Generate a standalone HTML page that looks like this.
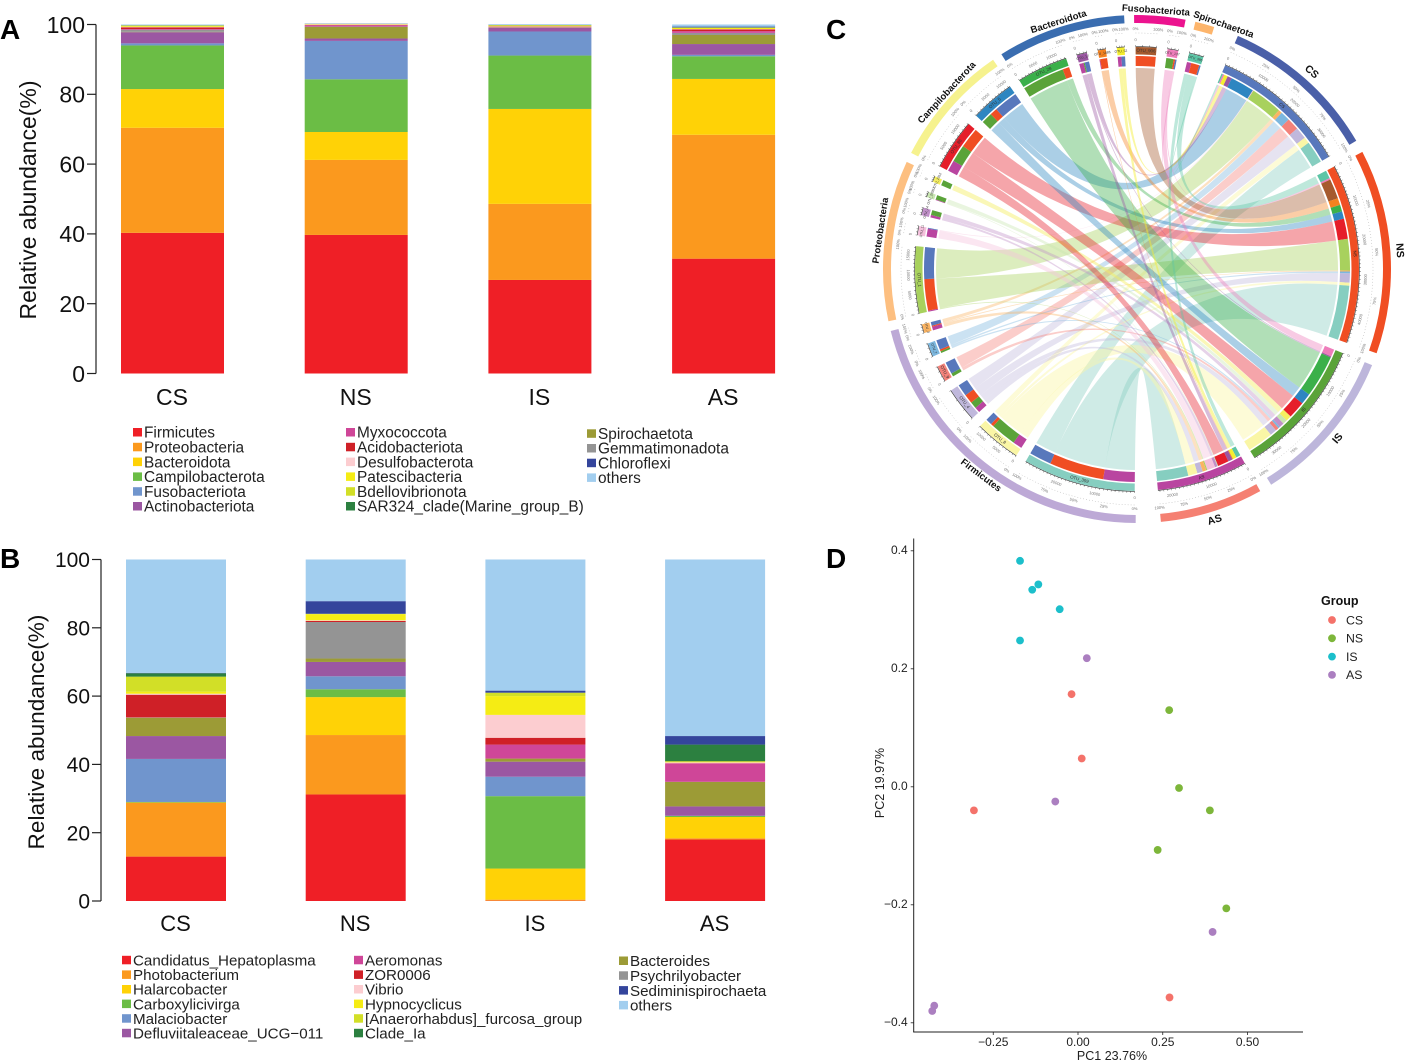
<!DOCTYPE html>
<html lang="en">
<head>
<meta charset="utf-8">
<title>Microbiome composition figure</title>
<style>
html,body{margin:0;padding:0;background:#fff;}
#figure{display:block;width:1414px;height:1062px;font-family:"Liberation Sans",sans-serif;}
text{font-family:"Liberation Sans",sans-serif;}
</style>
</head>
<body>
<svg id="figure" xmlns="http://www.w3.org/2000/svg" width="1414" height="1062" viewBox="0 0 1414 1062">
<rect x="0" y="0" width="1414" height="1062" fill="#fff"/>
<text x="0" y="39" font-size="28" font-weight="bold">A</text>
<text x="0" y="568" font-size="28" font-weight="bold">B</text>
<text x="826" y="39" font-size="28" font-weight="bold">C</text>
<text x="826" y="568" font-size="28" font-weight="bold">D</text>
<g id="panelA"></g>
<g id="panelB"></g>
<g id="panelC"></g>
<g id="panelD"></g>
</svg>
<script>
/* ---------- shared data ---------- */
const groupNames = ["CS", "NS", "IS", "AS"];
const percentTicks = [0, 20, 40, 60, 80, 100];

/* ---------- panel A data ---------- */
const phylumStackOrder = ["Firmicutes","Proteobacteria","Bacteroidota","Campilobacterota","Fusobacteriota","Actinobacteriota","Spirochaetota","Gemmatimonadota","Myxococcota","Acidobacteriota","Desulfobacterota","Patescibacteria","Bdellovibrionota","SAR324_clade(Marine_group_B)","Chloroflexi","others"];
const phylumColors = ["#EF1F26","#FB991E","#FFD206","#6BBD45","#7095CD","#9B57A2","#9C9B36","#949494","#CF4698","#CF2027","#FCCDD0","#F5EC14","#D2DF27","#2C8040","#34459C","#A2CEEF"];
const phylumCS = [40.3,30.1,11.1,12.5,0.6,3.2,0.1,0.6,0.2,0.5,0.1,0.2,0.2,0.05,0.05,0.2];
const phylumNS = [39.7,21.5,8.0,15.1,11.0,0.7,3.3,0.1,0.4,0.1,0.1,0.1,0.05,0.05,0.05,0.05];
const phylumIS = [26.8,21.8,27.2,15.3,6.9,1.0,0.1,0.1,0.1,0.1,0.1,0.2,0.1,0.05,0.05,0.2];
const phylumAS = [32.9,35.5,16.0,6.5,0.4,3.1,2.6,0.6,0.5,0.5,0.1,0.3,0.1,0.1,0.2,0.6];
const phylumLegendCol1 = ["Firmicutes","Proteobacteria","Bacteroidota","Campilobacterota","Fusobacteriota","Actinobacteriota"];
const phylumLegendCol2 = ["Myxococcota","Acidobacteriota","Desulfobacterota","Patescibacteria","Bdellovibrionota","SAR324_clade(Marine_group_B)"];
const phylumLegendCol3 = ["Spirochaetota","Gemmatimonadota","Chloroflexi","others"];

/* ---------- panel B data ---------- */
const genusStackOrder = ["Candidatus_Hepatoplasma","Photobacterium","Halarcobacter","Carboxylicivirga","Malaciobacter","Defluviitaleaceae_UCG\u2212011","Bacteroides","Psychrilyobacter","Aeromonas","ZOR0006","Vibrio","Hypnocyclicus","[Anaerorhabdus]_furcosa_group","Clade_Ia","Sediminispirochaeta","others"];
const genusColors = ["#EF1F26","#FB991E","#FFD206","#6BBD45","#7095CD","#9B57A2","#9C9B36","#949494","#CF4698","#CF2027","#FCCDD0","#F5EC14","#D2DF27","#2C8040","#34459C","#A2CEEF"];
const genusCS = [13.0,15.8,0.05,0.15,12.6,6.7,5.4,0,0.1,6.6,0.3,0.6,4.4,1.0,0.1,33.2];
const genusNS = [31.2,17.4,11.1,2.3,3.8,4.2,1.0,10.7,0,0.3,0.2,1.8,0.1,0,3.7,12.2];
const genusIS = [0.1,0.3,9.1,21.2,5.7,4.4,0.9,0,4.1,2.0,6.7,5.5,1.0,0,0.6,38.4];
const genusAS = [18.0,0.4,6.2,0.3,0.05,2.75,7.2,0,5.4,0.05,0.25,0.3,0,4.9,2.5,51.7];
const genusLegendCol1 = ["Candidatus_Hepatoplasma","Photobacterium","Halarcobacter","Carboxylicivirga","Malaciobacter","Defluviitaleaceae_UCG\u2212011"];
const genusLegendCol2 = ["Aeromonas","ZOR0006","Vibrio","Hypnocyclicus","[Anaerorhabdus]_furcosa_group","Clade_Ia"];
const genusLegendCol3 = ["Bacteroides","Psychrilyobacter","Sediminispirochaeta","others"];

/* ---------- panel C data ---------- */
const otuNames = ["OTU_359","OTU_8","OTU_4","OTU_9","OTU_7","OTU_3","OTU_1","OTU_11","OTU_14","OTU_20351","OTU_2012","OTU_86","OTU_5","OTU_28","OTU_17","OTU_1886","OTU_52","OTU_906","OTU_137","OTU_396"];
const otuPhylum = ["Firmicutes","Firmicutes","Firmicutes","Firmicutes","Firmicutes","Firmicutes","Proteobacteria","Proteobacteria","Proteobacteria","Proteobacteria","Proteobacteria","Campilobacterota","Campilobacterota","Bacteroidota","Bacteroidota","Bacteroidota","Bacteroidota","Fusobacteriota","Fusobacteriota","Spirochaetota"];
const otuColors = ["#86CEC0","#FAF6A6","#C0B8DC","#F4827A","#7CB7DE","#FAB463","#A8D15D","#F4C0DC","#C090C8","#C8E6B0","#F5EE60","#E61E2A","#2E86C1","#3BB04A","#9B57A2","#F58220","#F5EE30","#A65A2E","#EE7DBB","#5DC5A6"];
/* reads (thousands) per OTU, columns = CS, NS, IS, AS */
const flowCS = [6.0,1.7,3.2,3.3,2.6,1.0,8.6,0.2,0,0,0,0,6.5,0,1.2,0,1.0,0,0.4,0.4];
const flowNS = [14.8,0.8,2.5,0,0.5,0.3,8.5,0,0,0,0,5.5,2.0,1.8,0,1.9,0,5.4,0.4,2.2];
const flowIS = [0,7.0,1.8,0.9,0.5,0,0,0,1.3,1.2,1.5,4.7,3.0,11.5,0.3,0,0,0,2.0,0];
const flowAS = [8.5,2.5,1.5,0,0,1.0,0.3,2.2,0.7,0.2,0,3.0,0,0,1.2,0.2,1.0,0,0,1.2];
const phylumArcColors = {"Firmicutes":"#BDA9D6","Proteobacteria":"#FDBF80","Campilobacterota":"#F6F28E","Bacteroidota":"#3A6DB0","Fusobacteriota":"#EC138F","Spirochaetota":"#FDB56C"};
const groupArcColors = ["#4A5FA8","#F04E23","#BDB6DB","#F58072"];
const groupBarColors = ["#5878BC","#F04E23","#5AA339","#B945A0"];

/* ---------- panel D data ---------- */
const pcaGroupColors = ["#F4726A","#7DB63A","#1CBFCB","#AB7FC0"];
const pcaCSx = [-0.019,0.011,-0.307,0.270];
const pcaCSy = [0.157,0.048,-0.040,-0.357];
const pcaNSx = [0.269,0.298,0.389,0.235,0.4375];
const pcaNSy = [0.130,-0.002,-0.040,-0.107,-0.206];
const pcaISx = [-0.171,-0.117,-0.135,-0.054,-0.171];
const pcaISy = [0.383,0.343,0.334,0.301,0.248];
const pcaASx = [0.026,-0.067,0.397,-0.424,-0.430];
const pcaASy = [0.218,-0.025,-0.246,-0.371,-0.380];
const pcaXTicks = [-0.25,0,0.25,0.5];
const pcaXTickLabels = ["\u22120.25","0.00","0.25","0.50"];
const pcaYTicks = [0.4,0.2,0,-0.2,-0.4];
const pcaYTickLabels = ["0.4","0.2","0.0","\u22120.2","\u22120.4"];

/* ---------- helpers ---------- */
const NS_URI = "http://www.w3.org/2000/svg";
function make(parent, tag, attrs, txt){
  const el = document.createElementNS(NS_URI, tag);
  for (const k in attrs) el.setAttribute(k, attrs[k]);
  if (txt !== undefined) el.textContent = txt;
  parent.appendChild(el);
  return el;
}
function slug(s){ return String(s).toLowerCase().replace(/[^a-z0-9]+/g,'-').replace(/^-|-$/g,''); }

/* ---------- stacked bar panels ---------- */
function drawStacked(root, cfg){
  const yScale = v => cfg.y0 + (cfg.y100 - cfg.y0) * v / 100;
  const axis = make(root, "line", {x1:cfg.axisX, x2:cfg.axisX, y1:yScale(100), y2:yScale(0), stroke:"#222", "stroke-width":1.2});
  
  
  percentTicks.forEach(t => {
    const tick = make(root, "line", {x1:cfg.axisX-9, x2:cfg.axisX, y1:yScale(t), y2:yScale(t), stroke:"#222", "stroke-width":1.2});
    
    
    const lab = make(root, "text", {x:cfg.axisX-11, y:yScale(t)+cfg.tickSize*0.36, "text-anchor":"end", "font-size":cfg.tickSize, fill:"#111"}, String(t));
    
    
  });
  const title = make(root, "text", {transform:"translate("+cfg.titleX+","+cfg.titleY+") rotate(-90)", "text-anchor":"middle", "font-size":cfg.titleSize, fill:"#111"}, "Relative abundance(%)");
  
  
  cfg.series.forEach((vals, gi) => {
    const g = make(root, "g", {});
    
    
    let acc = 0;
    const x = cfg.barX0 + gi * cfg.barStep;
    vals.forEach((v, si) => {
      if (v <= 0) return;
      const yTop = yScale(acc + v), yBot = yScale(acc);
      const r = make(g, "rect", {x:x, y:yTop, width:cfg.barW, height:Math.max(yBot-yTop,0.1), fill:cfg.colors[si]});
      
      
      acc += v;
    });
    const cat = make(root, "text", {x:x+cfg.barW/2+cfg.catShift, y:cfg.catY, "text-anchor":"middle", "font-size":cfg.catSize, fill:"#111"}, groupNames[gi]);
    
    
  });
  cfg.legend.forEach(col => {
    col.items.forEach((name, i) => {
      const cy = col.y0 + i * col.dy;
      const sw = make(root, "rect", {x:col.x, y:cy-4.5, width:9, height:8.5, fill:cfg.colors[cfg.names.indexOf(name)]});
      
      
      const tx = make(root, "text", {x:col.x+11, y:cy+5.2, "font-size":cfg.legendSize, fill:"#222"}, name);
      
      
    });
  });
}
drawStacked(document.getElementById('panelA'), {
  id:'phylum', y0:373.5, y100:24.5, axisX:96, tickSize:23, titleX:36, titleY:200, titleSize:23,
  barX0:121, barStep:183.7, barW:103, catY:405, catSize:23, catShift:-0.5,
  colors:phylumColors, names:phylumStackOrder, series:[phylumCS,phylumNS,phylumIS,phylumAS], legendSize:15.4,
  legend:[{x:133,y0:432.5,dy:14.8,items:phylumLegendCol1},{x:346,y0:432.5,dy:14.8,items:phylumLegendCol2},{x:587,y0:433.8,dy:14.7,items:phylumLegendCol3}]
});
drawStacked(document.getElementById('panelB'), {
  id:'genus', y0:901, y100:559.5, axisX:101, tickSize:21, titleX:44, titleY:732, titleSize:22.6,
  barX0:126, barStep:179.7, barW:100, catY:931, catSize:22, catShift:-0.5,
  colors:genusColors, names:genusStackOrder, series:[genusCS,genusNS,genusIS,genusAS], legendSize:15.15,
  legend:[{x:122,y0:960.3,dy:14.6,items:genusLegendCol1},{x:354,y0:960.3,dy:14.6,items:genusLegendCol2},{x:619,y0:961,dy:14.8,items:genusLegendCol3}]
});

/* ---------- chord diagram ---------- */
(function(){
  const root = document.getElementById('panelC');
  const cx = 1137, cy = 269;
  const R = {ribbon:201, stackIn:203, stackOut:213, barIn:214.5, barOut:222, tickOut:225, tickLab:229, dotted:236, pctLab:240, arcIn:246, arcOut:254, label:259};
  const pt = (r, a) => { const t = a*Math.PI/180; return [cx + r*Math.sin(t), cy - r*Math.cos(t)]; };
  const fmt = p => p[0].toFixed(2) + ' ' + p[1].toFixed(2);
  function band(r0, r1, a0, a1){
    const large = (a1-a0) > 180 ? 1 : 0;
    return 'M' + fmt(pt(r1,a0)) + 'A' + r1 + ' ' + r1 + ' 0 ' + large + ' 1 ' + fmt(pt(r1,a1)) +
           'L' + fmt(pt(r0,a1)) + 'A' + r0 + ' ' + r0 + ' 0 ' + large + ' 0 ' + fmt(pt(r0,a0)) + 'Z';
  }
  const flows = [flowCS, flowNS, flowIS, flowAS];
  const otuTotals = otuNames.map((_, i) => flows.reduce((s,f)=>s+f[i],0));
  const groupTotals = flows.map(f => f.reduce((s,v)=>s+v,0));
  const sum = otuTotals.reduce((s,v)=>s+v,0) + groupTotals.reduce((s,v)=>s+v,0);
  const gapSmall = 2.85, gapBig = 6;
  const scale = (360 - 22*gapSmall - 2*gapBig) / sum;
  let angle = 180.6;
  const otuSectors = [], groupSectors = [];
  otuNames.forEach((n, i) => {
    const s = {start:angle, end:angle + otuTotals[i]*scale};
    otuSectors.push(s);
    angle = s.end + (i === otuNames.length-1 ? gapBig : gapSmall);
  });
  groupNames.forEach((n, i) => {
    const s = {start:angle, end:angle + groupTotals[i]*scale};
    groupSectors.push(s);
    angle = s.end + (i === groupNames.length-1 ? gapBig : gapSmall);
  });
  const otuSeg = [], groupSeg = groupNames.map(()=>({}));
  otuNames.forEach((n, i) => {
    let a = otuSectors[i].start;
    otuSeg[i] = {};
    for (let g = 3; g >= 0; g--) {
      const w = flows[g][i]*scale;
      otuSeg[i][g] = [a, a+w];
      a += w;
    }
  });
  groupNames.forEach((n, g) => {
    let a = groupSectors[g].start;
    for (let i = otuNames.length-1; i >= 0; i--) {
      const w = flows[g][i]*scale;
      groupSeg[g][i] = [a, a+w];
      a += w;
    }
  });
  /* ribbons */
  const ribbons = make(root, "g", {});
  
  
  otuNames.forEach((n, i) => {
    groupNames.forEach((gn, g) => {
      if (flows[g][i] <= 0) return;
      const a = otuSeg[i][g], b = groupSeg[g][i];
      const r = R.ribbon;
      const d = 'M' + fmt(pt(r,a[0])) + 'A' + r + ' ' + r + ' 0 0 1 ' + fmt(pt(r,a[1])) +
        'Q' + cx + ' ' + cy + ' ' + fmt(pt(r,b[0])) +
        'A' + r + ' ' + r + ' 0 0 1 ' + fmt(pt(r,b[1])) +
        'Q' + cx + ' ' + cy + ' ' + fmt(pt(r,a[0])) + 'Z';
      const p = make(ribbons, "path", {d:d, fill:otuColors[i], "fill-opacity":(i===1||i===16||i===10)?0.45:0.4});
      
      
    });
  });
  /* tracks */
  function trackLabel(text, r, a, size, fill, weight, name){
    const p = pt(r,a);
    const norm = ((a%360)+360)%360;
    const rot = (norm <= 90 || norm >= 270) ? norm : norm-180;
    const t = make(root, "text", {transform:"translate("+p[0].toFixed(2)+","+p[1].toFixed(2)+") rotate("+rot.toFixed(1)+")", "text-anchor":"middle", "dominant-baseline":"middle", "font-size":size, fill:fill, "font-weight":weight}, text);
    
    
  }
  function decorate(sec, total, barColor, label, id, textFill){
    const bar = make(root, "path", {d:band(R.barIn,R.barOut,sec.start,sec.end), fill:barColor});
    
    
    const axis = make(root, "path", {d:'M'+fmt(pt(R.barOut+0.4,sec.start))+'A'+(R.barOut+0.4)+' '+(R.barOut+0.4)+' 0 0 1 '+fmt(pt(R.barOut+0.4,sec.end)), fill:"none", stroke:"#333", "stroke-width":0.6});
    
    
    const width = sec.end - sec.start;
    const step = total >= 10 ? 1 : total / 3;
    for (let v = 0; v <= total + 1e-6; v += step) {
      const a = sec.start + v*scale;
      const p0 = pt(R.barOut+0.4,a), p1 = pt(R.barOut + 2,a);
      const tk = make(root, "line", {x1:p0[0],y1:p0[1],x2:p1[0],y2:p1[1],stroke:"#333","stroke-width":0.4});
      
      
    }
    const labStep = total >= 20 ? 10 : (total >= 10 ? 5 : 1000);
    for (let v = 0; v <= total + 1e-6; v += labStep) {
      const a = sec.start + v*scale;
      trackLabel(String(Math.round(v*1000)), R.tickLab, a, 4, "#777", "normal", id + '-tick-label');
    }
    const dot = make(root, "path", {d:'M'+fmt(pt(R.dotted,sec.start))+'A'+R.dotted+' '+R.dotted+' 0 0 1 '+fmt(pt(R.dotted,sec.end)), fill:"none", stroke:"#999", "stroke-width":0.5, "stroke-dasharray":"0.8 2.2"});
    
    
    const pcts = width > 20 ? [0,25,50,75,100] : [0,100];
    pcts.forEach(pc => {
      const a = sec.start + (sec.end-sec.start)*pc/100;
      trackLabel(pc + '%', R.pctLab, a, 4, "#777", "normal", id + '-percent-label');
    });
    if (width >= 1.4) trackLabel(label, (R.barIn+R.barOut)/2, (sec.start+sec.end)/2, width > 4 ? 4.4 : 3.4, textFill, "normal", id + '-track-label');
  }
  otuNames.forEach((n, i) => {
    const id = 'otu-' + slug(n);
    for (let g = 3; g >= 0; g--) {
      if (flows[g][i] <= 0) continue;
      const s = otuSeg[i][g];
      const p = make(root, "path", {d:band(R.stackIn,R.stackOut,s[0],s[1]), fill:groupBarColors[g]});
      
      
    }
    decorate(otuSectors[i], otuTotals[i], otuColors[i], n, id, "#333");
  });
  groupNames.forEach((n, g) => {
    const id = 'group-' + slug(n);
    for (let i = otuNames.length-1; i >= 0; i--) {
      if (flows[g][i] <= 0) continue;
      const s = groupSeg[g][i];
      const p = make(root, "path", {d:band(R.stackIn,R.stackOut,s[0],s[1]), fill:otuColors[i]});
      
      
    }
    decorate(groupSectors[g], groupTotals[g], groupBarColors[g], n, id, "#222");
    const arc = make(root, "path", {d:band(R.arcIn,R.arcOut,groupSectors[g].start,groupSectors[g].end), fill:groupArcColors[g]});
    
    
    trackLabel(n, R.label+4, (groupSectors[g].start+groupSectors[g].end)/2, 10.5, "#111", "bold", id + '-name-label');
  });
  Object.keys(phylumArcColors).forEach(ph => {
    const idx = otuPhylum.map((p,i)=>p===ph?i:-1).filter(i=>i>=0);
    const s = otuSectors[idx[0]].start - 0.3, e = otuSectors[idx[idx.length-1]].end + 0.3;
    const arc = make(root, "path", {d:band(R.arcIn,R.arcOut,s,e), fill:phylumArcColors[ph]});
    
    
    let shift = 0;
    if (ph === "Spirochaetota") shift = 4;
    if (ph === "Fusobacteriota") shift = -1;
    if (ph === "Proteobacteria") shift = 2;
    if (ph === "Campilobacterota") shift = 1.5;
    if (ph === "Firmicutes") shift = -1;
    trackLabel(ph, R.label, (s+e)/2 + shift, 9.5, "#111", "bold", 'phylum-name-label-' + slug(ph));
  });
})();

/* ---------- PCA scatter ---------- */
(function(){
  const root = document.getElementById('panelD');
  const xScale = v => 1078 + 339*v;
  const yScale = v => 786.8 - 590*v;
  const axisLeft = 913.7, axisBottom = 1032, axisTop = 538.5, axisRight = 1303;
  const ay = make(root, "line", {x1:axisLeft,x2:axisLeft,y1:axisTop,y2:axisBottom,stroke:"#222","stroke-width":1});
  
  
  const ax = make(root, "line", {x1:axisLeft-0.5,x2:axisRight,y1:axisBottom,y2:axisBottom,stroke:"#222","stroke-width":1});
  
  
  pcaXTicks.forEach((t,i) => {
    const x = xScale(t);
    const tk = make(root, "line", {x1:x,x2:x,y1:axisBottom,y2:axisBottom+3,stroke:"#222","stroke-width":0.8});
    
    
    const lb = make(root, "text", {x:x,y:1046,"text-anchor":"middle","font-size":12,fill:"#222"}, pcaXTickLabels[i]);
    
    
  });
  pcaYTicks.forEach((t,i) => {
    const y = yScale(t);
    const tk = make(root, "line", {x1:axisLeft-3,x2:axisLeft,y1:y,y2:y,stroke:"#222","stroke-width":0.8});
    
    
    const lb = make(root, "text", {x:axisLeft-6,y:y+3,"text-anchor":"end","font-size":12,fill:"#222"}, pcaYTickLabels[i]);
    
    
  });
  const xt = make(root, "text", {x:1112,y:1060,"text-anchor":"middle","font-size":12.5,fill:"#222"}, "PC1 23.76%");
  
  
  const yt = make(root, "text", {transform:"translate(884,783) rotate(-90)","text-anchor":"middle","font-size":12.5,fill:"#222"}, "PC2 19.97%");
  
  
  const xs = [pcaCSx,pcaNSx,pcaISx,pcaASx], ys = [pcaCSy,pcaNSy,pcaISy,pcaASy];
  groupNames.forEach((n,g) => {
    xs[g].forEach((v,i) => {
      const c = make(root, "circle", {cx:xScale(v),cy:yScale(ys[g][i]),r:3.9,fill:pcaGroupColors[g]});
      
      
    });
  });
  const lt = make(root, "text", {x:1321,y:605,"font-size":12.5,"font-weight":"bold",fill:"#111"}, "Group");
  
  
  groupNames.forEach((n,g) => {
    const y = 620 + g*18.3;
    const c = make(root, "circle", {cx:1332,cy:y,r:3.9,fill:pcaGroupColors[g]});
    
    
    const t = make(root, "text", {x:1346,y:y+4.3,"font-size":12.3,fill:"#222"}, n);
    
    
  });
})();
</script>
</body>
</html>
